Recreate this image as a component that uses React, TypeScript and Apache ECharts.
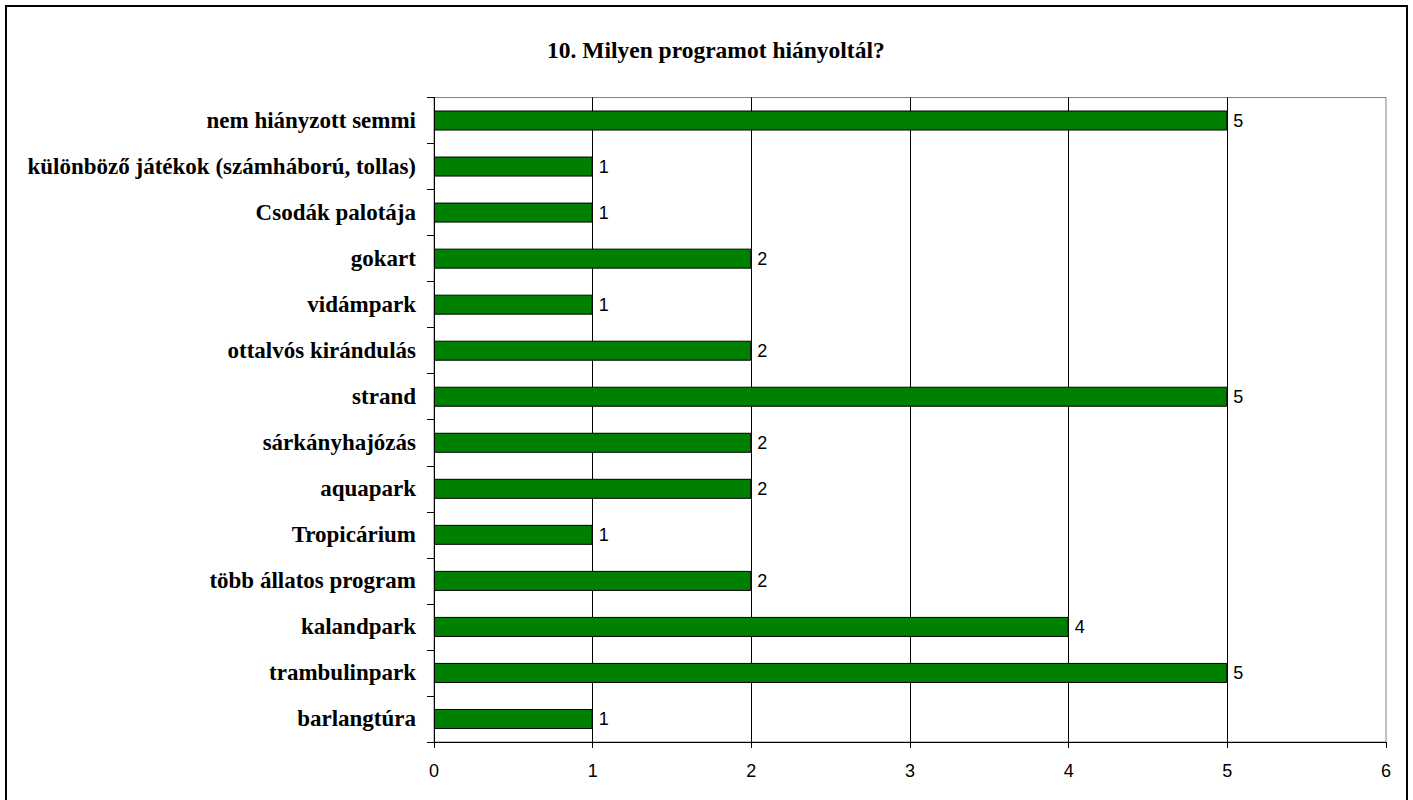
import React, { useEffect, useRef } from "react";
import * as echarts from "echarts";

const categories = [
  "nem hiányzott semmi",
  "különböző játékok (számháború, tollas)",
  "Csodák palotája",
  "gokart",
  "vidámpark",
  "ottalvós kirándulás",
  "strand",
  "sárkányhajózás",
  "aquapark",
  "Tropicárium",
  "több állatos program",
  "kalandpark",
  "trambulinpark",
  "barlangtúra",
];
const values = [5, 1, 1, 2, 1, 2, 5, 2, 2, 1, 2, 4, 5, 1];
const titleText = "10. Milyen programot hiányoltál?";

export default function App() {
  const ref = useRef<HTMLDivElement>(null);
  useEffect(() => {
    document.body.style.margin = "0";
    const chart = echarts.init(ref.current!, null, { renderer: "svg" });
    chart.setOption({
      animation: false,
      backgroundColor: "#ffffff",
      title: {
        text: titleText,
        left: 542,
        top: 33,
        textStyle: {
          fontFamily: "Liberation Serif",
          fontWeight: "bold",
          fontSize: 23.5,
          color: "#000",
        },
      },
      graphic: [
        {
          type: "rect",
          shape: { x: 6, y: 6, width: 1401, height: 810 },
          style: { fill: "none", stroke: "#000", lineWidth: 2 },
          z: 100,
        },
      ],
      grid: {
        left: 434,
        right: 27,
        top: 97.5,
        bottom: 58,
        show: true,
        borderColor: "#808080",
        borderWidth: 1,
        containLabel: false,
      },
      xAxis: {
        type: "value",
        min: 0,
        max: 6,
        interval: 1,
        axisLine: { show: true, lineStyle: { color: "#000", width: 1 } },
        axisTick: { show: true, length: 6, lineStyle: { color: "#000" } },
        axisLabel: {
          fontFamily: "Liberation Sans",
          fontSize: 18,
          color: "#000",
          margin: 20,
        },
        splitLine: {
          show: true,
          showMaxLine: false,
          lineStyle: { color: "#000", width: 1 },
        },
      },
      yAxis: {
        type: "category",
        data: categories,
        inverse: true,
        axisLine: { show: true, lineStyle: { color: "#000", width: 1 } },
        axisTick: { show: true, length: 7, lineStyle: { color: "#000" } },
        axisLabel: {
          fontFamily: "Liberation Serif",
          fontWeight: "bold",
          fontSize: 23,
          color: "#000",
          margin: 18,
        },
        splitLine: { show: false },
      },
      series: [
        {
          type: "bar",
          data: values,
          barWidth: 20,
          itemStyle: { color: "#008000", borderColor: "#000", borderWidth: 1 },
          label: {
            show: true,
            position: "right",
            distance: 6,
            fontFamily: "Liberation Sans",
            fontSize: 18,
            color: "#000",
          },
        },
      ],
    });
    return () => chart.dispose();
  }, []);
  return <div ref={ref} style={{ width: 1413, height: 800 }} />;
}
